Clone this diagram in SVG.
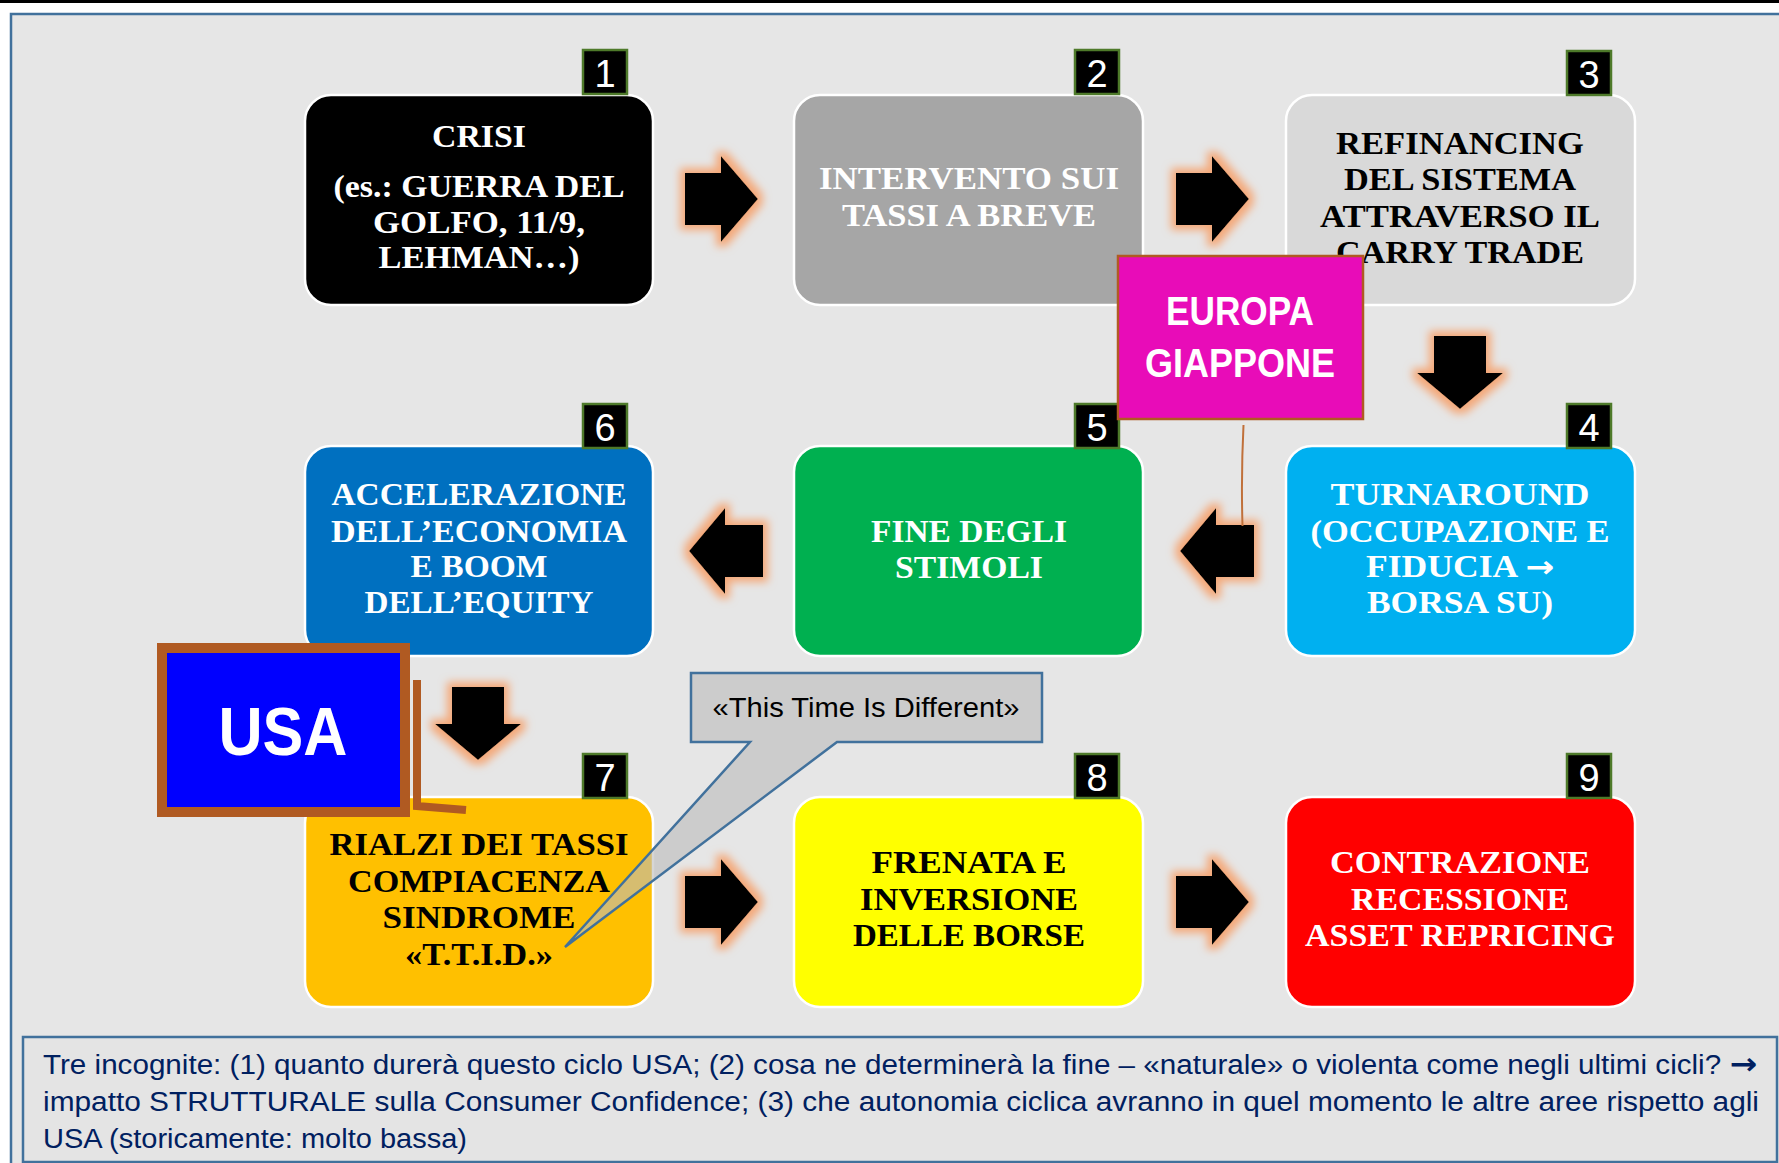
<svg xmlns="http://www.w3.org/2000/svg" width="1779" height="1163" viewBox="0 0 1779 1163">
<style>
.node{stroke:#ffffff;stroke-width:2.5}
.nt{font-family:"Liberation Serif","Times New Roman",serif;font-weight:bold;font-size:31px;text-anchor:middle}
.w{fill:#ffffff}
.k{fill:#000000}
.badge{fill:#000000;stroke:#4e7a2a;stroke-width:2.5}
.bt{font-family:"Liberation Sans",Arial,sans-serif;font-size:38px;fill:#ffffff;text-anchor:middle}
.arrow{fill:#000000;filter:url(#glow)}
.foot{font-family:"Liberation Sans",Arial,sans-serif;font-size:27px;fill:#002060}
.arr{font-family:"DejaVu Sans",sans-serif;font-weight:bold}
</style>
<defs>
<filter id="glow" x="-40%" y="-40%" width="180%" height="180%">
<feMorphology in="SourceAlpha" operator="dilate" radius="5" result="d"/>
<feGaussianBlur in="d" stdDeviation="4" result="b"/>
<feFlood flood-color="#f4a97a"/>
<feComposite in2="b" operator="in" result="g"/>
<feMerge><feMergeNode in="g"/><feMergeNode in="SourceGraphic"/></feMerge>
</filter>
</defs>
<rect x="0" y="0" width="1779" height="1163" fill="#ffffff"/>
<rect x="0" y="0" width="1779" height="3" fill="#000000"/>
<rect id="frame" x="11" y="14" width="1800" height="1200" fill="#e6e6e6" stroke="#41719c" stroke-width="2.5"/>

<g id="node1">
<rect class="node" x="305" y="95" width="348" height="210" rx="26" fill="#000000"/>
<text class="nt w" x="479" y="147" textLength="94" lengthAdjust="spacingAndGlyphs">CRISI</text>
<text class="nt w" x="479" y="197" textLength="291" lengthAdjust="spacingAndGlyphs">(es.: GUERRA DEL</text>
<text class="nt w" x="479" y="233" textLength="212" lengthAdjust="spacingAndGlyphs">GOLFO, 11/9,</text>
<text class="nt w" x="479" y="268" textLength="201" lengthAdjust="spacingAndGlyphs">LEHMAN…)</text>
</g>
<g id="node2">
<rect class="node" x="794" y="95" width="349" height="210" rx="26" fill="#a6a6a6"/>
<text class="nt w" x="969" y="189" textLength="300" lengthAdjust="spacingAndGlyphs">INTERVENTO SUI</text>
<text class="nt w" x="969" y="226" textLength="254" lengthAdjust="spacingAndGlyphs">TASSI A BREVE</text>
</g>
<g id="node3">
<rect class="node" x="1286" y="95" width="349" height="210" rx="26" fill="#d9d9d9"/>
<text class="nt k" x="1460" y="154" textLength="248" lengthAdjust="spacingAndGlyphs">REFINANCING</text>
<text class="nt k" x="1460" y="190" textLength="232" lengthAdjust="spacingAndGlyphs">DEL SISTEMA</text>
<text class="nt k" x="1460" y="227" textLength="280" lengthAdjust="spacingAndGlyphs">ATTRAVERSO IL</text>
<text class="nt k" x="1460" y="263" textLength="248" lengthAdjust="spacingAndGlyphs">CARRY TRADE</text>
</g>
<g id="node4">
<rect class="node" x="1286" y="446" width="349" height="210" rx="26" fill="#00b0f0"/>
<text class="nt w" x="1460" y="505" textLength="259" lengthAdjust="spacingAndGlyphs">TURNAROUND</text>
<text class="nt w" x="1460" y="542" textLength="299" lengthAdjust="spacingAndGlyphs">(OCCUPAZIONE E</text>
<text class="nt w" x="1460" y="577" textLength="188" lengthAdjust="spacingAndGlyphs">FIDUCIA <tspan class="arr" font-size="30">→</tspan></text>
<text class="nt w" x="1460" y="613" textLength="186" lengthAdjust="spacingAndGlyphs">BORSA SU)</text>
</g>
<g id="node5">
<rect class="node" x="794" y="446" width="349" height="210" rx="26" fill="#00b050"/>
<text class="nt w" x="969" y="542" textLength="196" lengthAdjust="spacingAndGlyphs">FINE DEGLI</text>
<text class="nt w" x="969" y="578" textLength="148" lengthAdjust="spacingAndGlyphs">STIMOLI</text>
</g>
<g id="node6">
<rect class="node" x="305" y="446" width="348" height="210" rx="26" fill="#0070c0"/>
<text class="nt w" x="479" y="505" textLength="295" lengthAdjust="spacingAndGlyphs">ACCELERAZIONE</text>
<text class="nt w" x="479" y="542" textLength="296" lengthAdjust="spacingAndGlyphs">DELL’ECONOMIA</text>
<text class="nt w" x="479" y="577" textLength="137" lengthAdjust="spacingAndGlyphs">E BOOM</text>
<text class="nt w" x="479" y="613" textLength="229" lengthAdjust="spacingAndGlyphs">DELL’EQUITY</text>
</g>
<g id="node7">
<rect class="node" x="305" y="797" width="348" height="210" rx="26" fill="#ffc000"/>
<text class="nt k" x="479" y="855" textLength="299" lengthAdjust="spacingAndGlyphs">RIALZI DEI TASSI</text>
<text class="nt k" x="479" y="892" textLength="262" lengthAdjust="spacingAndGlyphs">COMPIACENZA</text>
<text class="nt k" x="479" y="928" textLength="193" lengthAdjust="spacingAndGlyphs">SINDROME</text>
<text class="nt k" x="479" y="965" textLength="148" lengthAdjust="spacingAndGlyphs">«T.T.I.D.»</text>
</g>
<g id="node8">
<rect class="node" x="794" y="797" width="349" height="210" rx="26" fill="#ffff00"/>
<text class="nt k" x="969" y="873" textLength="195" lengthAdjust="spacingAndGlyphs">FRENATA E</text>
<text class="nt k" x="969" y="910" textLength="218" lengthAdjust="spacingAndGlyphs">INVERSIONE</text>
<text class="nt k" x="969" y="946" textLength="232" lengthAdjust="spacingAndGlyphs">DELLE BORSE</text>
</g>
<g id="node9">
<rect class="node" x="1286" y="797" width="349" height="210" rx="26" fill="#ff0000"/>
<text class="nt w" x="1460" y="873" textLength="260" lengthAdjust="spacingAndGlyphs">CONTRAZIONE</text>
<text class="nt w" x="1460" y="910" textLength="218" lengthAdjust="spacingAndGlyphs">RECESSIONE</text>
<text class="nt w" x="1460" y="946" textLength="310" lengthAdjust="spacingAndGlyphs">ASSET REPRICING</text>
</g>

<g id="badges">
<rect class="badge" x="583" y="50" width="44" height="44"/><text class="bt" x="605" y="87">1</text>
<rect class="badge" x="1075" y="50" width="44" height="44"/><text class="bt" x="1097" y="87">2</text>
<rect class="badge" x="1567" y="51" width="44" height="44"/><text class="bt" x="1589" y="88">3</text>
<rect class="badge" x="1567" y="404" width="44" height="44"/><text class="bt" x="1589" y="441">4</text>
<rect class="badge" x="1075" y="404" width="44" height="44"/><text class="bt" x="1097" y="441">5</text>
<rect class="badge" x="583" y="404" width="44" height="44"/><text class="bt" x="605" y="441">6</text>
<rect class="badge" x="583" y="754" width="44" height="44"/><text class="bt" x="605" y="791">7</text>
<rect class="badge" x="1075" y="754" width="44" height="44"/><text class="bt" x="1097" y="791">8</text>
<rect class="badge" x="1567" y="754" width="44" height="44"/><text class="bt" x="1589" y="791">9</text>
</g>

<g id="connectors">
<polygon class="arrow" points="685,173 721,173 721,156 758,199 721,242 721,225 685,225"/>
<polygon class="arrow" points="1176,173 1212,173 1212,156 1249,199 1212,242 1212,225 1176,225"/>
<polygon class="arrow" points="1434,336 1486,336 1486,373 1503,373 1460,409 1417,373 1434,373"/>
<polygon class="arrow" points="1254,525 1216,525 1216,508 1180,551 1216,594 1216,577 1254,577"/>
<polygon class="arrow" points="763,525 725,525 725,508 689,551 725,594 725,577 763,577"/>
<polygon class="arrow" points="452,687 504,687 504,724 521,724 478,760 435,724 452,724"/>
<polygon class="arrow" points="685,876 721,876 721,859 758,902 721,945 721,928 685,928"/>
<polygon class="arrow" points="1176,876 1212,876 1212,859 1249,902 1212,945 1212,928 1176,928"/>
<path d="M1243.5,425 Q1241,475 1242.5,526" fill="none" stroke="#c0703a" stroke-width="2"/>
<path d="M417,680 L417,806 L466,810" fill="none" stroke="#b05a22" stroke-width="8"/>
</g>

<g id="europa">
<rect x="1118" y="256" width="245" height="163" fill="#e80cb8" stroke="#b05a22" stroke-width="2.5"/>
<text x="1240" y="325" font-family="'Liberation Sans',Arial,sans-serif" font-weight="bold" font-size="41" fill="#ffffff" text-anchor="middle" textLength="148" lengthAdjust="spacingAndGlyphs">EUROPA</text>
<text x="1240" y="377" font-family="'Liberation Sans',Arial,sans-serif" font-weight="bold" font-size="41" fill="#ffffff" text-anchor="middle" textLength="190" lengthAdjust="spacingAndGlyphs">GIAPPONE</text>
</g>

<g id="usa">
<rect x="162" y="648" width="243" height="164" fill="#0000ff" stroke="#b05a22" stroke-width="10"/>
<text x="283" y="755" font-family="'Liberation Sans',Arial,sans-serif" font-weight="bold" font-size="68" fill="#ffffff" text-anchor="middle" textLength="129" lengthAdjust="spacingAndGlyphs">USA</text>
</g>

<g id="callout">
<polygon points="691,673 1042,673 1042,742 837,742 565,947 750,742 691,742" fill="#bababa" fill-opacity="0.6" stroke="#41719c" stroke-width="2.5"/>
<text x="866" y="717" font-family="'Liberation Sans',Arial,sans-serif" font-size="27" fill="#000000" text-anchor="middle" textLength="307" lengthAdjust="spacingAndGlyphs">«This Time Is Different»</text>
</g>

<g id="footer">
<rect x="23" y="1037" width="1754" height="125" fill="#e4e4e4" stroke="#41719c" stroke-width="2.5"/>
<text class="foot" x="43" y="1074" textLength="1714" lengthAdjust="spacingAndGlyphs">Tre incognite: (1) quanto durerà questo ciclo USA; (2) cosa ne determinerà la fine – «naturale» o violenta come negli ultimi cicli? <tspan class="arr" font-size="30">→</tspan></text>
<text class="foot" x="43" y="1111" textLength="1716" lengthAdjust="spacingAndGlyphs">impatto STRUTTURALE sulla Consumer Confidence; (3) che autonomia ciclica avranno in quel momento le altre aree rispetto agli</text>
<text class="foot" x="43" y="1148" textLength="424" lengthAdjust="spacingAndGlyphs">USA (storicamente: molto bassa)</text>
</g>
</svg>
